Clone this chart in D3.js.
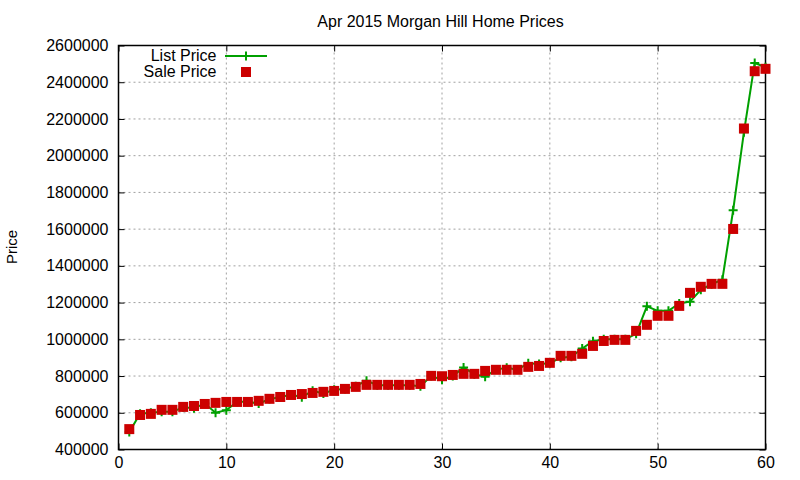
<!DOCTYPE html>
<html>
<head>
<meta charset="utf-8">
<script src="https://cdn.jsdelivr.net/npm/d3@7"></script>
<style>
  body { margin: 0; background: #fff; }
  text { font-family: "Liberation Sans", Arial, sans-serif; fill: #000; }
</style>
</head>
<body>
<svg id="chart" width="800" height="480"></svg>
<script>
// home index 1..60
const homes = d3.range(1, 61);

const listPrice = [
  495000, 595000, 600000, 605000, 605000, 630000, 625000, 650000, 600000, 614000,
  660000, 660000, 650000, 675000, 685000, 700000, 685000, 720000, 705000, 725000,
  730000, 745000, 775000, 750000, 750000, 750000, 750000, 745000, 800000, 780000,
  800000, 847000, 810000, 796000, 835000, 845000, 835000, 870000, 865000, 870000,
  900000, 905000, 950000, 990000, 1000000, 1000000, 1000000, 1030000, 1180000, 1155000,
  1155000, 1195000, 1205000, 1270000, 1300000, 1325000, 1703000, 2128000, 2505000, 2482000
];

const salePrice = [
  511000, 588000, 594000, 616000, 616000, 632000, 637000, 648000, 654000, 659000,
  659000, 659000, 665000, 676000, 686000, 697000, 702000, 708000, 714000, 719000,
  730000, 741000, 752000, 752000, 752000, 752000, 752000, 757000, 801000, 799000,
  806000, 812000, 812000, 828000, 834000, 834000, 834000, 850000, 855000, 872000,
  910000, 910000, 921000, 964000, 991000, 997000, 997000, 1046000, 1079000, 1128000,
  1128000, 1182000, 1253000, 1286000, 1302000, 1302000, 1601000, 2148000, 2460000, 2473000
];

const xTicks = [0, 10, 20, 30, 40, 50, 60];
const yTicks = d3.range(400000, 2600001, 200000);

const margin = { left: 118.5, right: 34.5, top: 45.5, bottom: 30.5 };
const width = 800, height = 480;
const svg = d3.select("#chart");

const x = d3.scaleLinear().domain([0, 60]).range([margin.left, width - margin.right]);
const y = d3.scaleLinear().domain([400000, 2600000]).range([height - margin.bottom, margin.top]);

// grid
const grid = svg.append("g")
  .attr("stroke", "#a0a0a0")
  .attr("stroke-width", 1)
  .attr("stroke-dasharray", "2,3");
grid.selectAll(".gx")
  .data(xTicks.slice(1, -1))
  .enter().append("line")
  .attr("x1", d => x(d)).attr("x2", d => x(d))
  .attr("y1", y.range()[0]).attr("y2", y.range()[1]);
grid.selectAll(".gy")
  .data(yTicks.slice(1, -1))
  .enter().append("line")
  .attr("x1", x.range()[0]).attr("x2", x.range()[1])
  .attr("y1", d => y(d)).attr("y2", d => y(d));

// axes, ticks pointing inward like gnuplot
const tickLen = 6;
svg.append("g")
  .attr("transform", `translate(0,${y.range()[0]})`)
  .call(d3.axisBottom(x).tickValues(xTicks).tickSizeInner(-tickLen).tickSizeOuter(0).tickPadding(7.5))
  .call(g => g.select(".domain").remove())
  .call(g => g.selectAll("text").attr("font-size", 16));
svg.append("g")
  .attr("transform", `translate(0,${y.range()[1]})`)
  .call(d3.axisTop(x).tickValues(xTicks).tickSizeInner(-tickLen).tickSizeOuter(0).tickFormat(""))
  .call(g => g.select(".domain").remove());
svg.append("g")
  .attr("transform", `translate(${x.range()[0]},0)`)
  .call(d3.axisLeft(y).tickValues(yTicks).tickSizeInner(-tickLen).tickSizeOuter(0).tickPadding(10).tickFormat(d3.format("d")))
  .call(g => g.select(".domain").remove())
  .call(g => g.selectAll("text").attr("font-size", 16));
svg.append("g")
  .attr("transform", `translate(${x.range()[1]},0)`)
  .call(d3.axisRight(y).tickValues(yTicks).tickSizeInner(-tickLen).tickSizeOuter(0).tickFormat(""))
  .call(g => g.select(".domain").remove());

// border
svg.append("rect")
  .attr("x", x.range()[0]).attr("y", y.range()[1])
  .attr("width", x.range()[1] - x.range()[0])
  .attr("height", y.range()[0] - y.range()[1])
  .attr("fill", "none").attr("stroke", "#000").attr("stroke-width", 1.5);

const green = "#00a000", red = "#cc0000";

// list price line + plus markers
svg.append("path")
  .datum(listPrice)
  .attr("fill", "none")
  .attr("stroke", green)
  .attr("stroke-width", 2)
  .attr("d", d3.line().x((d, i) => x(homes[i])).y(d => y(d)));

function plusPath(cx, cy, s) {
  return `M${cx - s},${cy}H${cx + s}M${cx},${cy - s}V${cy + s}`;
}
svg.append("g")
  .attr("stroke", green).attr("stroke-width", 2).attr("fill", "none")
  .selectAll("path")
  .data(listPrice)
  .enter().append("path")
  .attr("d", (d, i) => plusPath(x(homes[i]), y(d), 4.5));

// sale price squares
svg.append("g")
  .attr("fill", red)
  .selectAll("rect")
  .data(salePrice)
  .enter().append("rect")
  .attr("x", (d, i) => x(homes[i]) - 5)
  .attr("y", d => y(d) - 5)
  .attr("width", 10).attr("height", 10);

// title and labels
svg.append("text")
  .attr("x", 440.5).attr("y", 27)
  .attr("text-anchor", "middle")
  .attr("font-size", 16)
  .text("Apr 2015 Morgan Hill Home Prices");

svg.append("text")
  .attr("transform", "translate(17,247) rotate(-90)")
  .attr("text-anchor", "middle")
  .attr("font-size", 15)
  .text("Price");

// legend
const legend = svg.append("g").attr("font-size", 16);
legend.append("text")
  .attr("x", 216.5).attr("y", 61)
  .attr("text-anchor", "end")
  .text("List Price");
legend.append("line")
  .attr("x1", 225).attr("x2", 267).attr("y1", 56).attr("y2", 56)
  .attr("stroke", green).attr("stroke-width", 2);
legend.append("path")
  .attr("d", plusPath(246, 56, 4.5))
  .attr("stroke", green).attr("stroke-width", 2);
legend.append("text")
  .attr("x", 216.5).attr("y", 76.5)
  .attr("text-anchor", "end")
  .text("Sale Price");
legend.append("rect")
  .attr("x", 241).attr("y", 67).attr("width", 10).attr("height", 10)
  .attr("fill", red);
</script>
</body>
</html>
